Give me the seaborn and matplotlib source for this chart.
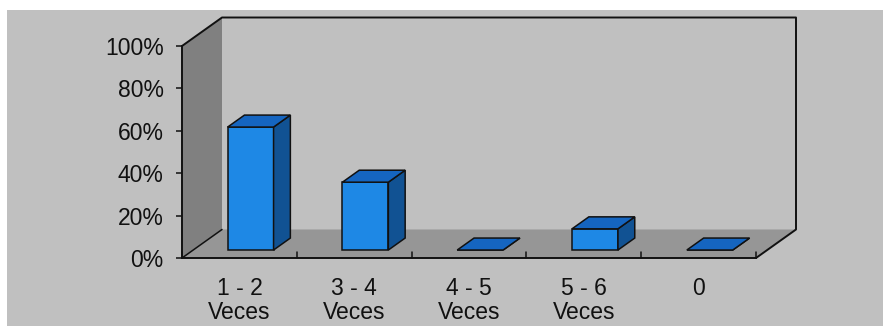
import matplotlib
matplotlib.use("Agg")
import matplotlib.pyplot as plt
from matplotlib.patches import Polygon, Rectangle
from matplotlib.lines import Line2D
from matplotlib.transforms import IdentityTransform, Affine2D
from matplotlib.ticker import PercentFormatter
import pandas as pd
import seaborn as sns

# Survey answers: how many times, share of respondents
categories = ["1 - 2\nVeces", "3 - 4\nVeces", "4 - 5\nVeces", "5 - 6\nVeces", "0"]
shares = [0.58, 0.32, 0.0, 0.10, 0.0]
y_ticks = [0.0, 0.2, 0.4, 0.6, 0.8, 1.0]

sns.set_theme(style="white")
plt.rcParams["font.family"] = ["Liberation Sans", "DejaVu Sans"]

W, H, DPI = 883, 327, 100
BG = "#c0c0c0"
FLOOR = "#969696"
SIDE_WALL = "#808080"
FRONT = "#1e88e5"
TOP = "#1565c0"
RIGHT = "#115293"
EDGE = "#111111"
TEXT = "#111111"

# depth of the 3-D box in pixels, and where the bars sit inside it
DX, DY = 40.0, 28.5
Z_FRONT, Z_BACK = 0.28, 0.70

fig = plt.figure(figsize=(W / DPI, H / DPI), dpi=DPI, facecolor="white")
fig.add_artist(Rectangle((7 / W, 1 / H), (W - 7) / W, 316 / H,
                         facecolor=BG, edgecolor="none", zorder=-10))

ax = fig.add_axes([182 / W, (H - 258) / H, 574 / W, 212 / H])
ax.set_facecolor("none")
ax.set_axisbelow(False)

df = pd.DataFrame({"categoria": categories, "porcentaje": shares})
sns.barplot(data=df, x="categoria", y="porcentaje", color=FRONT, saturation=1,
            width=0.4, edgecolor=EDGE, linewidth=1.1, ax=ax, zorder=1)
bars = list(ax.patches)

ax.set_xlim(-0.5, len(categories) - 0.5)
ax.set_ylim(0, 1)
ax.set_xlabel("")
ax.set_ylabel("")


def px(x, y, z):
    """Data point (x, y) pushed back by depth fraction z, in display pixels."""
    p = ax.transData.transform((x, y))
    return (p[0] + z * DX, p[1] + z * DY)


def poly(points, color, zorder, lw=0.0):
    ax.add_patch(Polygon(points, closed=True, facecolor=color,
                         edgecolor=EDGE if lw else "none", linewidth=lw,
                         transform=IdentityTransform(), clip_on=False,
                         zorder=zorder))


def line(points, lw=1.4, zorder=0.5):
    xs, ys = zip(*points)
    ax.add_line(Line2D(xs, ys, color=EDGE, linewidth=lw,
                       transform=IdentityTransform(), clip_on=False,
                       zorder=zorder))


x0, x1 = -0.5, len(categories) - 0.5
# walls and floor of the box
poly([px(x0, 0, 0), px(x0, 1, 0), px(x0, 1, 1), px(x0, 0, 1)], SIDE_WALL, 0.2)
poly([px(x0, 0, 0), px(x1, 0, 0), px(x1, 0, 1), px(x0, 0, 1)], FLOOR, 0.2)
line([px(x0, 1, 0), px(x0, 1, 1), px(x1, 1, 1), px(x1, 0, 1), px(x1, 0, 0)])
line([px(x0, 0, 0), px(x0, 0, 1)], lw=1.1)

# category separators: short marks standing up on the floor's front edge
for i in range(len(categories) + 1):
    bx, by = px(i - 0.5, 0, 0)
    line([(bx, by), (bx, by + 6.5)], lw=1.1, zorder=0.6)

# give every bar a top and a right face
shift = Affine2D().translate(Z_FRONT * DX, Z_FRONT * DY)
dz = Z_BACK - Z_FRONT
for b in bars:
    bx, by, bw, bh = b.get_x(), b.get_y(), b.get_width(), b.get_height()
    b.set_transform(ax.transData + shift)
    b.set_clip_on(False)
    fl_t = px(bx, by + bh, Z_FRONT)
    fr_t = px(bx + bw, by + bh, Z_FRONT)
    fr_b = px(bx + bw, by, Z_FRONT)
    back = lambda p: (p[0] + dz * DX, p[1] + dz * DY)
    poly([fr_b, fr_t, back(fr_t), back(fr_b)], RIGHT, 1.1, lw=1.1)
    poly([fl_t, fr_t, back(fr_t), back(fl_t)], TOP, 1.1, lw=1.1)

for side in ("top", "right"):
    ax.spines[side].set_visible(False)
for side in ("left", "bottom"):
    ax.spines[side].set_color(EDGE)
    ax.spines[side].set_linewidth(1.4)

ax.set_yticks(y_ticks)
ax.yaxis.set_major_formatter(PercentFormatter(xmax=1, decimals=0))
ax.tick_params(axis="y", direction="out", length=4.3, width=1.1, color=EDGE,
               pad=9, labelsize=16.5, labelcolor=TEXT, left=True)

ax.set_xticks(range(len(categories)), categories)
ax.tick_params(axis="x", length=0, pad=14, labelsize=16.5, labelcolor=TEXT,
               bottom=False)
for lbl in ax.get_xticklabels():
    lbl.set_linespacing(1.05)

fig.savefig("out.png", dpi=DPI, facecolor="white")
